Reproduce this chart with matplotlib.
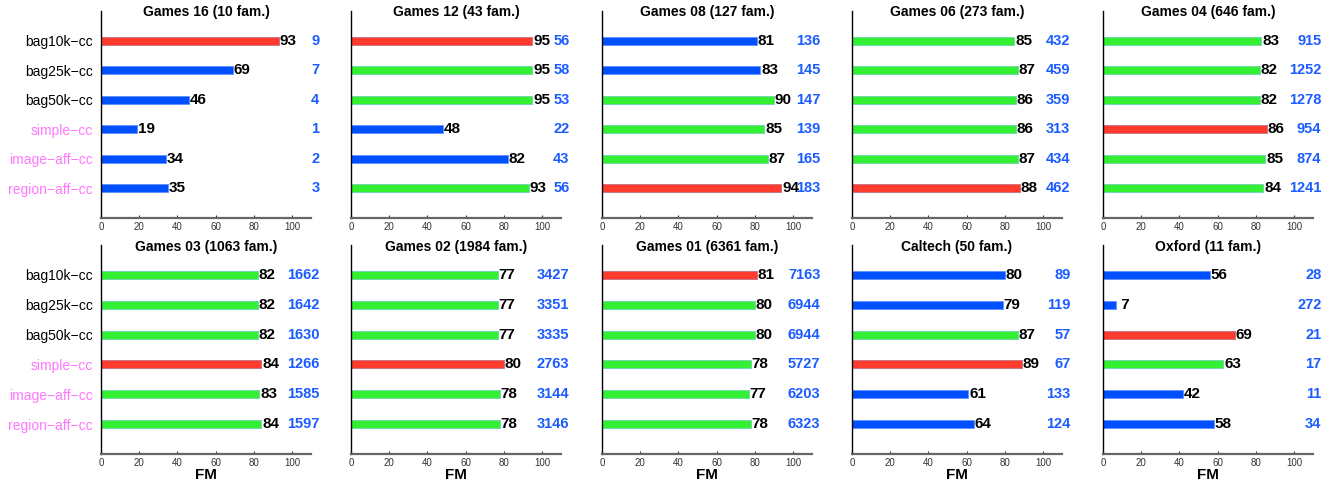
import numpy as np
from matplotlib import pyplot as plt
from matplotlib import transforms

plt.rcParams['font.family'] = ['Liberation Sans', 'DejaVu Sans']

methods = ["bag10k\u2212cc", "bag25k\u2212cc", "bag50k\u2212cc",
           "simple\u2212cc", "image\u2212aff\u2212cc", "region\u2212aff\u2212cc"]
method_colors = ["black", "black", "black", "#ff77ff", "#ff77ff", "#ff77ff"]

titles = ["Games 16 (10 fam.)", "Games 12 (43 fam.)", "Games 08 (127 fam.)",
          "Games 06 (273 fam.)", "Games 04 (646 fam.)",
          "Games 03 (1063 fam.)", "Games 02 (1984 fam.)", "Games 01 (6361 fam.)",
          "Caltech (50 fam.)", "Oxford (11 fam.)"]

fm = [
    [93, 69, 46, 19, 34, 35],
    [95, 95, 95, 48, 82, 93],
    [81, 83, 90, 85, 87, 94],
    [85, 87, 86, 86, 87, 88],
    [83, 82, 82, 86, 85, 84],
    [82, 82, 82, 84, 83, 84],
    [77, 77, 77, 80, 78, 78],
    [81, 80, 80, 78, 77, 78],
    [80, 79, 87, 89, 61, 64],
    [56, 7, 69, 63, 42, 58],
]

counts = [
    [9, 7, 4, 1, 2, 3],
    [56, 58, 53, 22, 43, 56],
    [136, 145, 147, 139, 165, 183],
    [432, 459, 359, 313, 434, 462],
    [915, 1252, 1278, 954, 874, 1241],
    [1662, 1642, 1630, 1266, 1585, 1597],
    [3427, 3351, 3335, 2763, 3144, 3146],
    [7163, 6944, 6944, 5727, 6203, 6323],
    [89, 119, 57, 67, 133, 124],
    [28, 272, 21, 17, 11, 34],
]

# r = best, g = close to best, b = the rest
marks = [
    "rbbbbb", "rggbbg", "bbgggr", "gggggr", "gggrgg",
    "gggrgg", "gggrgg", "rggggg", "bbgrbb", "bbrgbb",
]
palette = {"r": "#ff3b2e", "g": "#33f033", "b": "#0050ff"}
edges = {"r": "#c07080", "g": "#70d0b0", "b": "#6090ff"}
count_color = "#1a5cff"

W, H = 1337, 482
fig = plt.figure(figsize=(W / 100, H / 100), dpi=100)

lefts = [101, 351, 602, 852, 1103]
rows = [(11, 218), (245, 454)]
title_pads = [-3.5, -4.2]
width = 210

ypos = np.arange(1, 7)
for k in range(10):
    r, c = divmod(k, 5)
    top, bot = rows[r]
    ax = fig.add_axes([lefts[c] / W, 1 - bot / H, width / W, (bot - top) / H])
    cols = [palette[m] for m in marks[k]]
    ecs = [edges[m] for m in marks[k]]
    ax.barh(ypos, fm[k], height=0.27, color=cols, edgecolor=ecs, linewidth=0.6)
    ax.set_xlim(0, 110)
    ax.set_ylim(7, 0)

    tr = transforms.blended_transform_factory(ax.transAxes, ax.transData)
    for y, v, n in zip(ypos, fm[k], counts[k]):
        ax.text(v + 0.4, y, f"{v:2d}" if v < 10 else str(v), ha="left", va="center",
                fontsize=11, fontweight="bold", color="black")
        ax.text(1.04, y, str(n), transform=tr, ha="right", va="center",
                fontsize=10.5, fontweight="bold", color=count_color)

    ax.set_title(titles[k], fontsize=10, fontweight="bold", y=1.0,
                 pad=title_pads[r])
    ax.spines["top"].set_visible(False)
    ax.spines["right"].set_visible(False)
    ax.spines["left"].set_color("black")
    ax.spines["bottom"].set_color("#666666")
    ax.spines["left"].set_linewidth(1.0)
    ax.spines["bottom"].set_linewidth(1.6)
    ax.set_xticks([0, 20, 40, 60, 80, 100])
    ax.tick_params(axis="x", direction="in", length=2, labelsize=7,
                   colors="#333333", pad=3)
    if c == 0:
        ax.set_yticks(ypos)
        ax.set_yticklabels(methods, fontsize=10)
        for lbl, col in zip(ax.get_yticklabels(), method_colors):
            lbl.set_color(col)
        ax.tick_params(axis="y", length=0, pad=6)
    else:
        ax.set_yticks([])
    if r == 1:
        ax.set_xlabel("FM", fontsize=11, fontweight="bold", labelpad=0)

fig.savefig("out.png", dpi=100)
